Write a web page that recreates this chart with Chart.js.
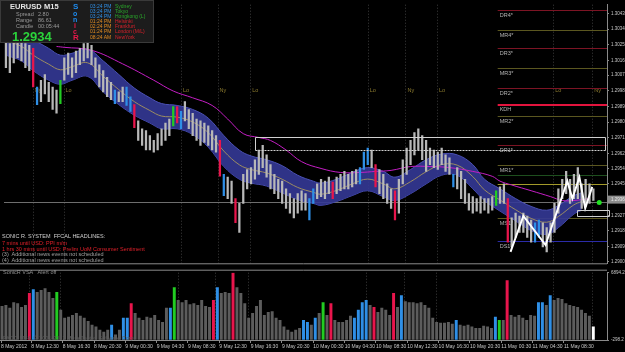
<!DOCTYPE html>
<html>
<head>
<meta charset="utf-8">
<script src="https://cdn.jsdelivr.net/npm/chart.js@4.4.1/dist/chart.umd.min.js"></script>
<style>
html,body{margin:0;padding:0;background:#000;width:625px;height:352px;overflow:hidden;font-family:'Liberation Sans',Arial,sans-serif;}
canvas{position:absolute;left:0;}
#mainC{top:0;}
#volC{top:268px;}
.t{position:absolute;white-space:nowrap;line-height:1;}
#info{position:absolute;left:0;top:0;width:152px;height:41px;background:#1c1c1c;border:1px solid #3a3a3a;}
</style>
</head>
<body>
<canvas id="mainC" width="625" height="268"></canvas>
<canvas id="volC" width="625" height="84"></canvas>

<div id="info">
  <span class="t" style="left:9px;top:2px;font-size:7.5px;font-weight:bold;color:#e6e6e6">EURUSD</span>
  <span class="t" style="left:43px;top:2px;font-size:7.5px;font-weight:bold;color:#e6e6e6">M15</span>
  <span class="t" style="left:15px;top:11px;font-size:5.5px;color:#9a9a9a">Spread</span>
  <span class="t" style="left:37px;top:11px;font-size:5.5px;color:#9a9a9a">2.80</span>
  <span class="t" style="left:15px;top:17px;font-size:5.5px;color:#9a9a9a">Range</span>
  <span class="t" style="left:37px;top:17px;font-size:5.5px;color:#9a9a9a">86.61</span>
  <span class="t" style="left:15px;top:23px;font-size:5.5px;color:#9a9a9a">Candle</span>
  <span class="t" style="left:37px;top:23px;font-size:5.5px;color:#9a9a9a">00:05:44</span>
  <span class="t" style="left:11px;top:29px;font-size:13px;font-weight:bold;color:#2bd33b">1.2934</span>
  <span class="t" style="left:72px;top:2px;font-size:8px;font-weight:bold;color:#1e8cf0">S</span>
  <span class="t" style="left:72px;top:9px;font-size:7px;font-weight:bold;color:#1e8cf0">o</span>
  <span class="t" style="left:72px;top:15px;font-size:7px;font-weight:bold;color:#1e8cf0">n</span>
  <span class="t" style="left:73px;top:21px;font-size:7px;font-weight:bold;color:#e8184a">i</span>
  <span class="t" style="left:72px;top:27px;font-size:7px;font-weight:bold;color:#e8184a">c</span>
  <span class="t" style="left:72px;top:33px;font-size:8px;font-weight:bold;color:#e8184a">R</span>
  <span class="t" style="left:89px;top:3px;font-size:5px;color:#2f8fe6">03:24 PM</span>
  <span class="t" style="left:89px;top:8px;font-size:5px;color:#2f8fe6">03:24 PM</span>
  <span class="t" style="left:89px;top:13px;font-size:5px;color:#2f8fe6">03:24 PM</span>
  <span class="t" style="left:89px;top:18px;font-size:5px;color:#e08a20">01:24 PM</span>
  <span class="t" style="left:89px;top:23px;font-size:5px;color:#e08a20">02:24 PM</span>
  <span class="t" style="left:89px;top:28px;font-size:5px;color:#e08a20">01:24 PM</span>
  <span class="t" style="left:89px;top:34px;font-size:5px;color:#e08a20">08:24 AM</span>
  <span class="t" style="left:114px;top:3px;font-size:5px;color:#2aa82a">Sydney</span>
  <span class="t" style="left:114px;top:8px;font-size:5px;color:#2aa82a">Tokyo</span>
  <span class="t" style="left:114px;top:13px;font-size:5px;color:#2aa82a">Hongkong (L)</span>
  <span class="t" style="left:114px;top:18px;font-size:5px;color:#d8202a">Helsinki</span>
  <span class="t" style="left:114px;top:23px;font-size:5px;color:#d8202a">Frankfurt</span>
  <span class="t" style="left:114px;top:28px;font-size:5px;color:#d8202a">London (M/L)</span>
  <span class="t" style="left:114px;top:34px;font-size:5px;color:#d8202a">NewYork</span>
</div>

<span class="t" style="left:2px;top:234px;font-size:5.5px;color:#d0d0d0">SONIC R. SYSTEM&nbsp; FFCAL HEADLINES:</span>
<span class="t" style="left:2px;top:241px;font-size:5.5px;color:#e0202a">7 mins until USD: PPI m/m</span>
<span class="t" style="left:2px;top:246.5px;font-size:5.5px;color:#e0202a">1 hrs 30 mins until USD: Prelim UoM Consumer Sentiment</span>
<span class="t" style="left:2px;top:252px;font-size:5.5px;color:#a0a0a0">(3)&nbsp; Additional news events not scheduled</span>
<span class="t" style="left:2px;top:257.5px;font-size:5.5px;color:#a0a0a0">(4)&nbsp; Additional news events not scheduled</span>

<span class="t" style="left:3px;top:270px;font-size:5.5px;color:#909090">SonicR VSA&nbsp;&nbsp; Alert off</span>
<span class="t" style="left:3px;top:336px;font-size:5.5px;color:#5c5c5c">FXDD MT4, © 2001-2012 MetaQuotes Software Corp.</span>

<script>
// ---------------- DATA ----------------
const timeLabels = ['8 May 2012','8 May 12:30','8 May 16:30','8 May 20:30','9 May 00:30','9 May 04:30','9 May 08:30','9 May 12:30','9 May 16:30','9 May 20:30','10 May 00:30','10 May 04:30','10 May 08:30','10 May 12:30','10 May 16:30','10 May 20:30','11 May 00:30','11 May 04:30','11 May 08:30'];
const timeTickSlots = [-0.25,7.5,15.5,23.5,31.5,39.5,47.5,55.5,63.5,71.5,79.5,87.5,95.5,103.5,111.5,119.5,127.5,135.5,143.5];

const priceTicks = [1.30430,1.30340,1.30250,1.30160,1.30075,1.29985,1.29895,1.29805,1.29715,1.29625,1.29540,1.29450,1.29270,1.29180,1.29090,1.29005];
const currentPrice = 1.29360;
const volTicks = [6894.2,-298.2];

const candleHigh = [
 1.30285,1.30257,1.30268,1.30313,1.30285,1.30257,1.30246,1.30229,1.30007,1.30046,
 1.30079,1.30034,1.30007,1.29990,1.30046,1.30174,1.30202,1.30174,1.30213,1.30229,
 1.30257,1.30268,1.30246,1.30174,1.30135,1.30101,1.30062,1.30034,1.29990,1.29979,
 1.30007,1.30007,1.29951,1.29906,1.29812,1.29767,1.29756,1.29728,1.29700,1.29739,
 1.29767,1.29800,1.29823,1.29895,1.29895,1.29867,1.29923,1.29878,1.29856,1.29823,
 1.29812,1.29800,1.29784,1.29756,1.29728,1.29700,1.29505,1.29489,1.29466,1.29366,
 1.29338,1.29505,1.29533,1.29544,1.29589,1.29645,1.29672,1.29617,1.29561,1.29505,
 1.29477,1.29466,1.29422,1.29394,1.29366,1.29394,1.29411,1.29394,1.29366,1.29422,
 1.29450,1.29477,1.29466,1.29489,1.29461,1.29489,1.29505,1.29522,1.29505,1.29522,
 1.29533,1.29544,1.29633,1.29656,1.29645,1.29561,1.29533,1.29505,1.29450,1.29422,
 1.29411,1.29477,1.29589,1.29656,1.29700,1.29745,1.29767,1.29728,1.29700,1.29656,
 1.29645,1.29633,1.29656,1.29617,1.29600,1.29505,1.29544,1.29522,1.29477,1.29394,
 1.29377,1.29366,1.29377,1.29366,1.29366,1.29377,1.29411,1.29433,1.29450,1.29366,
 1.29255,1.29282,1.29266,1.29282,1.29266,1.29243,1.29227,1.29243,1.29227,1.29199,
 1.29227,1.29338,1.29422,1.29477,1.29522,1.29477,1.29505,1.29544,1.29450,1.29477,
 1.29450,1.29422];
const candleLow = [
 1.30118,1.30090,1.30146,1.30174,1.30157,1.30118,1.30101,1.30007,1.29906,1.29923,
 1.29968,1.29923,1.29878,1.29856,1.29912,1.30046,1.30079,1.30062,1.30090,1.30135,
 1.30157,1.30174,1.30135,1.30062,1.30007,1.29979,1.29951,1.29934,1.29912,1.29923,
 1.29923,1.29901,1.29867,1.29773,1.29700,1.29672,1.29645,1.29645,1.29633,1.29645,
 1.29672,1.29700,1.29728,1.29784,1.29800,1.29767,1.29812,1.29767,1.29728,1.29700,
 1.29672,1.29689,1.29672,1.29645,1.29633,1.29494,1.29383,1.29366,1.29338,1.29227,
 1.29171,1.29338,1.29422,1.29450,1.29477,1.29505,1.29544,1.29489,1.29422,1.29394,
 1.29366,1.29338,1.29310,1.29282,1.29255,1.29282,1.29299,1.29299,1.29243,1.29338,
 1.29366,1.29377,1.29366,1.29394,1.29366,1.29394,1.29411,1.29422,1.29422,1.29433,
 1.29450,1.29450,1.29533,1.29561,1.29544,1.29433,1.29394,1.29366,1.29338,1.29310,
 1.29243,1.29282,1.29450,1.29505,1.29561,1.29617,1.29645,1.29589,1.29522,1.29561,
 1.29544,1.29533,1.29561,1.29522,1.29505,1.29433,1.29422,1.29366,1.29338,1.29299,
 1.29282,1.29294,1.29282,1.29299,1.29282,1.29299,1.29327,1.29338,1.29338,1.29115,
 1.29088,1.29143,1.29171,1.29171,1.29143,1.29115,1.29115,1.29143,1.29088,1.29060,
 1.29115,1.29171,1.29282,1.29366,1.29394,1.29338,1.29366,1.29366,1.29310,1.29321,
 1.29338,1.29355];
const candleClimax = [7,33,44,55,59,84,95,100,129];
const candleRising = [8,28,31,32,45,56,78,79,91,92,93,115,136,137];
const candleChurn  = [14,43,126];

const volume = [
 3300,3400,3100,3700,3600,3200,3400,4700,5100,4800,
 5000,5200,4800,4150,4800,2900,2050,2150,2350,2550,
 2250,2050,1700,1300,1100,750,550,750,1300,250,
 750,2050,2050,3600,2550,2050,1800,2150,2050,2350,
 1800,1600,3100,3100,5300,3950,3700,3950,3500,3600,
 3400,3950,3300,3200,3950,5300,4700,4800,4700,6890,
 5300,4700,3600,2050,2550,3300,3950,2350,2650,2750,
 2050,1800,1100,750,550,750,950,1800,1600,1300,
 2050,2550,3700,2350,3600,1800,1600,1600,1800,2250,
 2050,2900,3700,3950,3400,3200,2650,3100,2900,2350,
 4700,3200,4450,3800,3700,3700,3600,3700,3400,3100,
 2050,1600,1500,1500,1600,1400,1800,1300,1200,1300,
 1100,950,950,1200,1100,950,2150,1800,1800,6050,
 2350,2150,2350,2050,1800,2350,2250,3700,3700,3400,
 4450,3950,4150,4050,3600,3400,3300,3200,2900,2550,
 2250,1100];
const volClimax  = [7,33,54,59,84,95,100,129];
const volRising  = [8,28,31,32,43,55,77,78,80,90,91,92,93,102,116,126,137,138,140];
const volChurn   = [14,44,82,127];
const volCurrent = [151];

const bandSlots = [0,4,7,11,14,17,21,25,29,33,37,40,44,48,52,56,60,63,67,71,75,79,81,85,89,93,97,100,104,108,112,116,120,123,127,131,135,139,142,146,148];
const bandUpper = [
 1.30357,1.30324,1.30280,1.30229,1.30190,1.30201,1.30224,1.30157,1.30079,1.30001,
 1.29945,1.29912,1.29901,1.29878,1.29828,1.29728,1.29644,1.29611,1.29589,1.29555,
 1.29500,1.29466,1.29455,1.29477,1.29516,1.29544,1.29522,1.29489,1.29533,1.29589,
 1.29622,1.29617,1.29561,1.29477,1.29422,1.29366,1.29321,1.29299,1.29327,1.29383,
 1.29399];
const bandLower = [
 1.30190,1.30157,1.30101,1.30046,1.30023,1.30046,1.30068,1.29979,1.29906,1.29845,
 1.29800,1.29767,1.29767,1.29734,1.29661,1.29550,1.29477,1.29455,1.29438,1.29399,
 1.29360,1.29338,1.29327,1.29349,1.29383,1.29411,1.29377,1.29355,1.29394,1.29450,
 1.29500,1.29500,1.29422,1.29355,1.29294,1.29238,1.29182,1.29160,1.29199,1.29277,
 1.29299];
const bandMid = [
 1.30274,1.30240,1.30190,1.30138,1.30106,1.30124,1.30146,1.30068,1.29992,1.29923,
 1.29872,1.29840,1.29834,1.29806,1.29745,1.29639,1.29560,1.29533,1.29513,1.29477,
 1.29430,1.29402,1.29391,1.29413,1.29450,1.29478,1.29450,1.29422,1.29463,1.29520,
 1.29561,1.29558,1.29492,1.29416,1.29358,1.29302,1.29252,1.29230,1.29263,1.29330,
 1.29349];

const maSlots  = [13,15,22,30,38,43,48,53,57,61,65,68,72,76,81,86,91,95,99,104,109,114,120,125,127,130,135,140,143,146,150];
const maValues = [1.30240,1.30235,1.30218,1.30140,1.30046,1.29984,1.29945,1.29901,1.29823,1.29739,1.29717,1.29700,1.29645,1.29578,1.29539,1.29516,1.29516,1.29522,1.29528,1.29550,1.29550,1.29544,1.29522,1.29494,1.29466,1.29444,1.29411,1.29377,1.29355,1.29355,1.29366];

const zigzagSlots  = [129.7,133,138.7,144.3,145.6,147.4,148.9,150.7];
const zigzagPrices = [1.29060,1.29266,1.29099,1.29466,1.29366,1.29489,1.29310,1.29433];

const pivotNames  = ['DR4*','MR4*','DR3*','MR3*','DR2*','KDH','MR2*','DR1*','MR1*','','','MS1*','DS1*'];
const pivotKinds  = ['DR','MR','DR','MR','DR','KDH','MR','DR','MR','G','Y','MS','DS'];
const pivotLevels = [1.30447,1.30335,1.30229,1.30118,1.30001,1.29901,1.29839,1.29672,1.29561,1.29500,1.29450,1.29255,1.29121];
const pivotStartSlot = 126.4;

const sessionSlots = [6.9,14.8,45,54.4,62.8,93,102.7,110.8,140.7,150.7];
const sessionNames = ['Ny','Lo','Lo','Ny','Lo','Lo','Ny','Lo','Lo','Ny'];

const boxStart  = [63.9,146.8];
const boxEnd    = [154,155.1];
const boxTop    = [1.29717,1.29299];
const boxBottom = [1.29645,1.29266];

const priceLineLevel = 1.29344;
const signalSlot = 152.5;
const signalPrice = 1.29344;

// ---------------- STYLE ----------------
const SLOT_MIN = -0.5, SLOT_MAX = 154.5;
const PMIN = 1.28994, PMAX = 1.30480;
const COL = {climax:'#e8154c', rising:'#2f8fe6', churn:'#22cc22', current:'#ffffff', candle:'#b8b8b8', vol:'#5c5c5c'};
const pivotStyle = {
  DR:{c:'#7c1424',w:1}, MR:{c:'#5b5720',w:1}, KDH:{c:'#e3143e',w:2},
  G:{c:'#1e4f1e',w:1}, Y:{c:'#a39a2a',w:1}, MS:{c:'#5b5720',w:1}, DS:{c:'#2b2ba8',w:1}
};
Chart.defaults.font.family = "'Liberation Sans', Arial, sans-serif";
Chart.defaults.font.size = 5;
Chart.defaults.color = '#c8c8c8';
Chart.defaults.animation = false;
Chart.defaults.plugins.legend.display = false;
Chart.defaults.plugins.tooltip.enabled = false;

function candleColor(i){
  if (candleClimax.includes(i)) return COL.climax;
  if (candleRising.includes(i)) return COL.rising;
  if (candleChurn.includes(i)) return COL.churn;
  return COL.candle;
}
function volColor(i){
  if (volClimax.includes(i)) return COL.climax;
  if (volRising.includes(i)) return COL.rising;
  if (volChurn.includes(i)) return COL.churn;
  if (volCurrent.includes(i)) return COL.current;
  return COL.vol;
}

function drawSessions(chart){
  const {ctx, chartArea:a, scales:{x}} = chart;
  ctx.save();
  ctx.strokeStyle = '#3c3c3c'; ctx.lineWidth = 1; ctx.setLineDash([1,2]);
  sessionSlots.forEach(s=>{
    const px = Math.round(x.getPixelForValue(s)) + 0.5;
    ctx.beginPath(); ctx.moveTo(px, a.top); ctx.lineTo(px, a.bottom); ctx.stroke();
  });
  ctx.restore();
}

const mainOverlay = {
  id:'mainOverlay',
  beforeDatasetsDraw(chart){
    const {ctx, chartArea:a, scales:{x,y}} = chart;
    drawSessions(chart);
    ctx.save();
    ctx.fillStyle = '#8c7b2e'; ctx.font = "5.5px 'Liberation Sans'"; ctx.textBaseline = 'middle';
    sessionSlots.forEach((s,i)=>ctx.fillText(sessionNames[i], x.getPixelForValue(s)+2, 90));
    const gy = Math.round(y.getPixelForValue(priceLineLevel)) + 0.5;
    ctx.strokeStyle = '#6e6e6e'; ctx.lineWidth = 1;
    ctx.beginPath(); ctx.moveTo(a.left, gy); ctx.lineTo(a.right, gy); ctx.stroke();
    const x0 = x.getPixelForValue(pivotStartSlot);
    pivotLevels.forEach((v,i)=>{
      const st = pivotStyle[pivotKinds[i]];
      const py = Math.round(y.getPixelForValue(v)) + (st.w === 1 ? 0.5 : 0);
      ctx.strokeStyle = st.c; ctx.lineWidth = st.w;
      ctx.beginPath(); ctx.moveTo(x0, py); ctx.lineTo(a.right, py); ctx.stroke();
      if (pivotNames[i]) {
        ctx.fillStyle = '#b4b4b4'; ctx.font = "5.5px 'Liberation Sans'";
        ctx.fillText(pivotNames[i], x0 + 2, py + 4.5);
      }
    });
    ctx.restore();
  },
  afterDatasetsDraw(chart){
    const {ctx, scales:{x,y}} = chart;
    ctx.save();
    ctx.strokeStyle = '#d0d0d0'; ctx.lineWidth = 1;
    boxStart.forEach((s,i)=>{
      const l = Math.round(x.getPixelForValue(s)) + 0.5, r = Math.round(x.getPixelForValue(boxEnd[i])) + 0.5;
      const t = Math.round(y.getPixelForValue(boxTop[i])) + 0.5, b = Math.round(y.getPixelForValue(boxBottom[i])) + 0.5;
      ctx.setLineDash([]);
      ctx.beginPath(); ctx.moveTo(l,b); ctx.lineTo(l,t); ctx.lineTo(r,t); ctx.lineTo(r,b); ctx.stroke();
      if (i === 0) ctx.setLineDash([2,1]);
      ctx.beginPath(); ctx.moveTo(l,b); ctx.lineTo(r,b); ctx.stroke();
    });
    ctx.restore();
  },
  afterDraw(chart){
    const {ctx, chartArea:a, scales:{y}} = chart;
    ctx.save();
    ctx.strokeStyle = '#8a8a8a'; ctx.lineWidth = 1;
    ctx.beginPath(); ctx.moveTo(0, a.bottom + 0.5); ctx.lineTo(a.right, a.bottom + 0.5); ctx.stroke();
    const cy = y.getPixelForValue(currentPrice);
    ctx.fillStyle = '#8c8c8c';
    ctx.fillRect(a.right + 1, cy - 4, 30, 8);
    ctx.fillStyle = '#e8e8e8'; ctx.font = "4.5px 'Liberation Sans'"; ctx.textBaseline = 'middle';
    ctx.fillText(currentPrice.toFixed(5), a.right + 4, cy);
    ctx.restore();
  }
};

const volOverlay = {
  id:'volOverlay',
  beforeDatasetsDraw(chart){ drawSessions(chart); },
  afterDraw(chart){
    const {ctx, chartArea:a} = chart;
    ctx.save();
    ctx.strokeStyle = '#8a8a8a'; ctx.lineWidth = 1;
    ctx.beginPath(); ctx.moveTo(0, a.top - 2.5); ctx.lineTo(a.right, a.top - 2.5); ctx.stroke();
    ctx.restore();
  }
};

// ---------------- MAIN CHART ----------------
new Chart(document.getElementById('mainC'), {
  data:{
    datasets:[
      { type:'line', order:0, data: zigzagSlots.map((s,i)=>({x:s, y:zigzagPrices[i]})),
        borderColor:'#ffffff', borderWidth:2, pointRadius:0, tension:0 },
      { type:'scatter', order:0, data:[{x:signalSlot, y:signalPrice}],
        pointRadius:2.5, pointBackgroundColor:'#22e022', pointBorderWidth:0 },
      { type:'bar', order:1, data: candleHigh.map((h,i)=>({x:i, y:[candleLow[i], h]})),
        backgroundColor: c => candleColor(c.dataIndex), barThickness:1.6, grouped:false, borderWidth:0 },
      { type:'line', order:2, data: maSlots.map((s,i)=>({x:s, y:maValues[i]})),
        borderColor:'#c41ec4', borderWidth:1, pointRadius:0, tension:0.4 },
      { type:'line', order:3, data: bandSlots.map((s,i)=>({x:s, y:bandMid[i]})),
        borderColor:'#9c8c62', borderWidth:1, pointRadius:0, tension:0.4 },
      { type:'line', order:4, data: bandSlots.map((s,i)=>({x:s, y:bandUpper[i]})),
        borderColor:'#4a50b4', borderWidth:1, pointRadius:0, tension:0.4,
        fill:'+1', backgroundColor:'rgba(52,57,150,0.9)' },
      { type:'line', order:4, data: bandSlots.map((s,i)=>({x:s, y:bandLower[i]})),
        borderColor:'#4a50b4', borderWidth:1, pointRadius:0, tension:0.4, fill:false }
    ]
  },
  options:{
    responsive:false, maintainAspectRatio:false,
    layout:{padding:{top:0,bottom:1,left:0,right:0}},
    scales:{
      x:{ type:'linear', min:SLOT_MIN, max:SLOT_MAX, display:false, offset:false, grid:{offset:false} },
      y:{ type:'linear', position:'right', min:PMIN, max:PMAX,
          afterBuildTicks: s => { s.ticks = priceTicks.map(v=>({value:v})); },
          afterFit: s => { s.width = 18; },
          ticks:{ autoSkip:false, padding:2, color:'#c8c8c8', font:{size:4.5}, callback: v => Number(v).toFixed(5) },
          grid:{ drawOnChartArea:false, tickLength:2, color:'#8a8a8a' },
          border:{ display:true, color:'#8a8a8a' } }
    }
  },
  plugins:[mainOverlay]
});

// ---------------- VOLUME CHART ----------------
new Chart(document.getElementById('volC'), {
  data:{
    datasets:[
      { type:'bar', data: volume.map((v,i)=>({x:i, y:v})), base:-298.2,
        backgroundColor: c => volColor(c.dataIndex), barThickness:2.3, grouped:false, borderWidth:0 }
    ]
  },
  options:{
    responsive:false, maintainAspectRatio:false,
    layout:{padding:{top:3,bottom:0,left:0,right:0}},
    scales:{
      x:{ type:'linear', min:SLOT_MIN, max:SLOT_MAX, offset:false,
          afterBuildTicks: s => { s.ticks = timeTickSlots.map(v=>({value:v})); },
          afterFit: s => { s.height = 12; },
          ticks:{ autoSkip:false, maxRotation:0, minRotation:0, align:'start', padding:1, color:'#c8c8c8',
                  callback:(v,i)=>timeLabels[i] },
          grid:{ drawOnChartArea:false, tickLength:3, color:'#8a8a8a', offset:false },
          border:{ display:true, color:'#8a8a8a' } },
      y:{ type:'linear', position:'right', min:-298.2, max:6894.2,
          afterBuildTicks: s => { s.ticks = volTicks.map(v=>({value:v})); },
          afterFit: s => { s.width = 18; },
          ticks:{ autoSkip:false, padding:2, color:'#c8c8c8', font:{size:4.5}, callback: v => Number(v).toFixed(1) },
          grid:{ drawOnChartArea:false, tickLength:2, color:'#8a8a8a' },
          border:{ display:true, color:'#8a8a8a' } }
    }
  },
  plugins:[volOverlay]
});
</script>
</body>
</html>
